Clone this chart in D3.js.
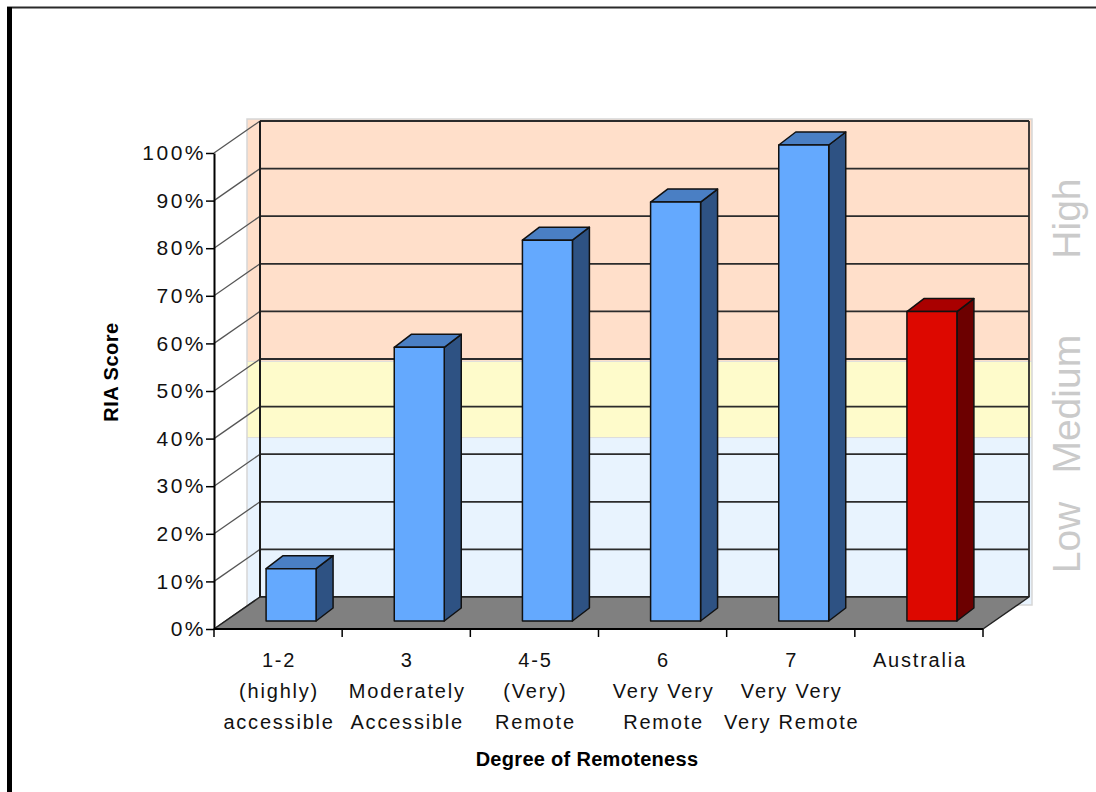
<!DOCTYPE html>
<html>
<head>
<meta charset="utf-8">
<script src="https://cdn.jsdelivr.net/npm/d3@7"></script>
<style>
  html, body { margin: 0; padding: 0; background: #fff; }
  svg { display: block; }
</style>
</head>
<body>
<svg id="chart" width="1096" height="792"></svg>
<script>
// ---- data ----
const categories = ["1-2", "3", "4-5", "6", "7", "Australia"];
const categoryLines = [
  ["1-2", "(highly)", "accessible"],
  ["3", "Moderately", "Accessible"],
  ["4-5", "(Very)", "Remote"],
  ["6", "Very Very", "Remote"],
  ["7", "Very Very", "Very Remote"],
  ["Australia"]
];
const riaScores = [0.11, 0.575, 0.80, 0.88, 1.00, 0.65];
const yTicks = [0, 0.1, 0.2, 0.3, 0.4, 0.5, 0.6, 0.7, 0.8, 0.9, 1.0];
const bandNames = ["Low", "Medium", "High"];
const bandLimits = [0, 0.335, 0.495, 1.0];
const bandLabelAt = [0.125, 0.405, 0.795];

// ---- layout ----
const svg = d3.select("#chart");
const font = "'Liberation Sans', Arial, sans-serif";
const depth = { dx: 46, dy: -32 };       // floor / side wall depth
const barDepth = { dx: 17, dy: -13 };    // depth of each 3D bar
const barShift = { dx: 13, dy: -8 };     // bar front face sits this far into the floor
const barRatio = 0.39;

const x = d3.scaleBand().domain(categories).range([214, 983]).padding(0);
const y = d3.scaleLinear().domain([0, 1]).range([629, 153]);
const yBack = v => y(v) + depth.dy;
const xBack0 = x.range()[0] + depth.dx;
const xBack1 = x.range()[1] + depth.dx;

// ---- outer frame ----
svg.append("line").attr("x1", 7).attr("x2", 1096).attr("y1", 7.5).attr("y2", 7.5)
  .attr("stroke", "#2a2a2a").attr("stroke-width", 2);
svg.append("line").attr("x1", 9.5).attr("x2", 9.5).attr("y1", 7).attr("y2", 792)
  .attr("stroke", "#000").attr("stroke-width", 5);

// ---- background bands (Low / Medium / High) ----
const bandColors = ["#e8f3fe", "#fefbcb", "#ffdfca"];
const bandX0 = xBack0 - 13, bandX1 = xBack1 + 3;
const bandTop = yBack(1) - 2, bandBottom = yBack(0) + 8;
const bands = svg.append("g");
bandNames.forEach((name, i) => {
  const top = i === bandNames.length - 1 ? bandTop : yBack(bandLimits[i + 1]);
  const bottom = i === 0 ? bandBottom : yBack(bandLimits[i]);
  bands.append("rect")
    .attr("x", bandX0).attr("y", top)
    .attr("width", bandX1 - bandX0).attr("height", bottom - top)
    .attr("fill", bandColors[i]);
  if (i > 0) {
    bands.append("line").attr("x1", bandX0).attr("x2", bandX1)
      .attr("y1", bottom).attr("y2", bottom)
      .attr("stroke", "#dcdcdc").attr("stroke-width", 1);
  }
});
bands.append("rect")
  .attr("x", bandX0).attr("y", bandTop)
  .attr("width", bandX1 - bandX0).attr("height", bandBottom - bandTop)
  .attr("fill", "none").attr("stroke", "#d6d6d6").attr("stroke-width", 1.5);

// ---- back wall grid ----
const grid = svg.append("g");
yTicks.forEach(v => {
  grid.append("line")
    .attr("x1", xBack0).attr("x2", xBack1)
    .attr("y1", yBack(v)).attr("y2", yBack(v))
    .attr("stroke", "#2b2b2b").attr("stroke-width", 1.8);
  // side wall diagonals
  grid.append("line")
    .attr("x1", x.range()[0]).attr("y1", y(v))
    .attr("x2", xBack0).attr("y2", yBack(v))
    .attr("stroke", "#555").attr("stroke-width", 1.3);
});
grid.append("line").attr("x1", xBack0).attr("x2", xBack0)
  .attr("y1", yBack(0)).attr("y2", yBack(1))
  .attr("stroke", "#1a1a1a").attr("stroke-width", 2);
grid.append("line").attr("x1", xBack1).attr("x2", xBack1)
  .attr("y1", yBack(0)).attr("y2", yBack(1))
  .attr("stroke", "#2b2b2b").attr("stroke-width", 1.8);

// ---- floor ----
const fx0 = x.range()[0], fx1 = x.range()[1], fy = y(0);
svg.append("path")
  .attr("d", `M${fx0},${fy}L${fx1},${fy}L${fx1 + depth.dx},${fy + depth.dy}L${fx0 + depth.dx},${fy + depth.dy}Z`)
  .attr("fill", "#808080").attr("stroke", "#222").attr("stroke-width", 1.5)
  .attr("stroke-linejoin", "round");

// ---- value axis ----
const yAxis = d3.axisLeft(y)
  .tickValues(yTicks)
  .tickFormat(d3.format(".0%"))
  .tickSize(8).tickSizeOuter(0).tickPadding(0);
const yAxisG = svg.append("g").attr("transform", `translate(${fx0},0)`).call(yAxis);
yAxisG.select(".domain").attr("stroke", "#000").attr("stroke-width", 2);
yAxisG.selectAll(".tick line").attr("stroke", "#000").attr("stroke-width", 1.5);
yAxisG.selectAll(".tick text")
  .attr("font-family", font).attr("font-size", 21)
  .attr("letter-spacing", "2.5px").attr("fill", "#111");

// ---- category axis ----
const xAxisG = svg.append("g");
xAxisG.append("line").attr("x1", fx0).attr("x2", fx1).attr("y1", fy).attr("y2", fy)
  .attr("stroke", "#000").attr("stroke-width", 2);
const boundaries = categories.map(c => x(c)).concat([x.range()[1]]);
xAxisG.selectAll("line.tick").data(boundaries).join("line")
  .attr("class", "tick")
  .attr("x1", d => d).attr("x2", d => d)
  .attr("y1", fy).attr("y2", fy + 8)
  .attr("stroke", "#000").attr("stroke-width", 1.5);
const labels = xAxisG.selectAll("text.cat").data(categories).join("text")
  .attr("class", "cat")
  .attr("font-family", font).attr("font-size", 20)
  .attr("letter-spacing", "1.8px").attr("fill", "#111")
  .attr("text-anchor", "middle");
labels.each(function (c, i) {
  const t = d3.select(this);
  categoryLines[i].forEach((line, k) => {
    t.append("tspan")
      .attr("x", x(c) + x.bandwidth() / 2 + 1)
      .attr("y", 667 + k * 31)
      .text(line);
  });
});

// ---- 3D bars ----
const barW = x.bandwidth() * barRatio;
const palette = {
  region: { front: "#64a9fe", top: "#4a7fc4", side: "#2e5283" },
  nation: { front: "#dd0800", top: "#a90000", side: "#6c0000" }
};
const barsG = svg.append("g");
categories.forEach((c, i) => {
  const v = riaScores[i];
  const col = c === "Australia" ? palette.nation : palette.region;
  const x0 = x(c) + (x.bandwidth() - barW) / 2 + barShift.dx;
  const x1 = x0 + barW;
  const yt = y(v) + barShift.dy;
  const yb = y(0) + barShift.dy;
  const g = barsG.append("g")
    .attr("stroke", "#111").attr("stroke-width", 1.5).attr("stroke-linejoin", "round");
  // side face
  g.append("path")
    .attr("d", `M${x1},${yt}L${x1 + barDepth.dx},${yt + barDepth.dy}L${x1 + barDepth.dx},${yb + barDepth.dy}L${x1},${yb}Z`)
    .attr("fill", col.side);
  // top face
  g.append("path")
    .attr("d", `M${x0},${yt}L${x0 + barDepth.dx},${yt + barDepth.dy}L${x1 + barDepth.dx},${yt + barDepth.dy}L${x1},${yt}Z`)
    .attr("fill", col.top);
  // front face
  g.append("rect")
    .attr("x", x0).attr("y", yt)
    .attr("width", barW).attr("height", yb - yt)
    .attr("fill", col.front);
});

// ---- band labels ----
bandNames.forEach((name, i) => {
  svg.append("text")
    .attr("transform", `translate(1080,${yBack(bandLabelAt[i])}) rotate(-90)`)
    .attr("text-anchor", "middle")
    .attr("font-family", font).attr("font-size", 39)
    .attr("fill", "#cacaca")
    .text(name);
});

// ---- axis titles ----
svg.append("text")
  .attr("transform", "translate(118,372) rotate(-90)")
  .attr("text-anchor", "middle")
  .attr("font-family", font).attr("font-size", 20).attr("font-weight", "bold")
  .attr("letter-spacing", "0.5px").attr("fill", "#000")
  .text("RIA Score");
svg.append("text")
  .attr("x", 587).attr("y", 766)
  .attr("text-anchor", "middle")
  .attr("font-family", font).attr("font-size", 20).attr("font-weight", "bold")
  .attr("letter-spacing", "0.3px").attr("fill", "#000")
  .text("Degree of Remoteness");
</script>
</body>
</html>
